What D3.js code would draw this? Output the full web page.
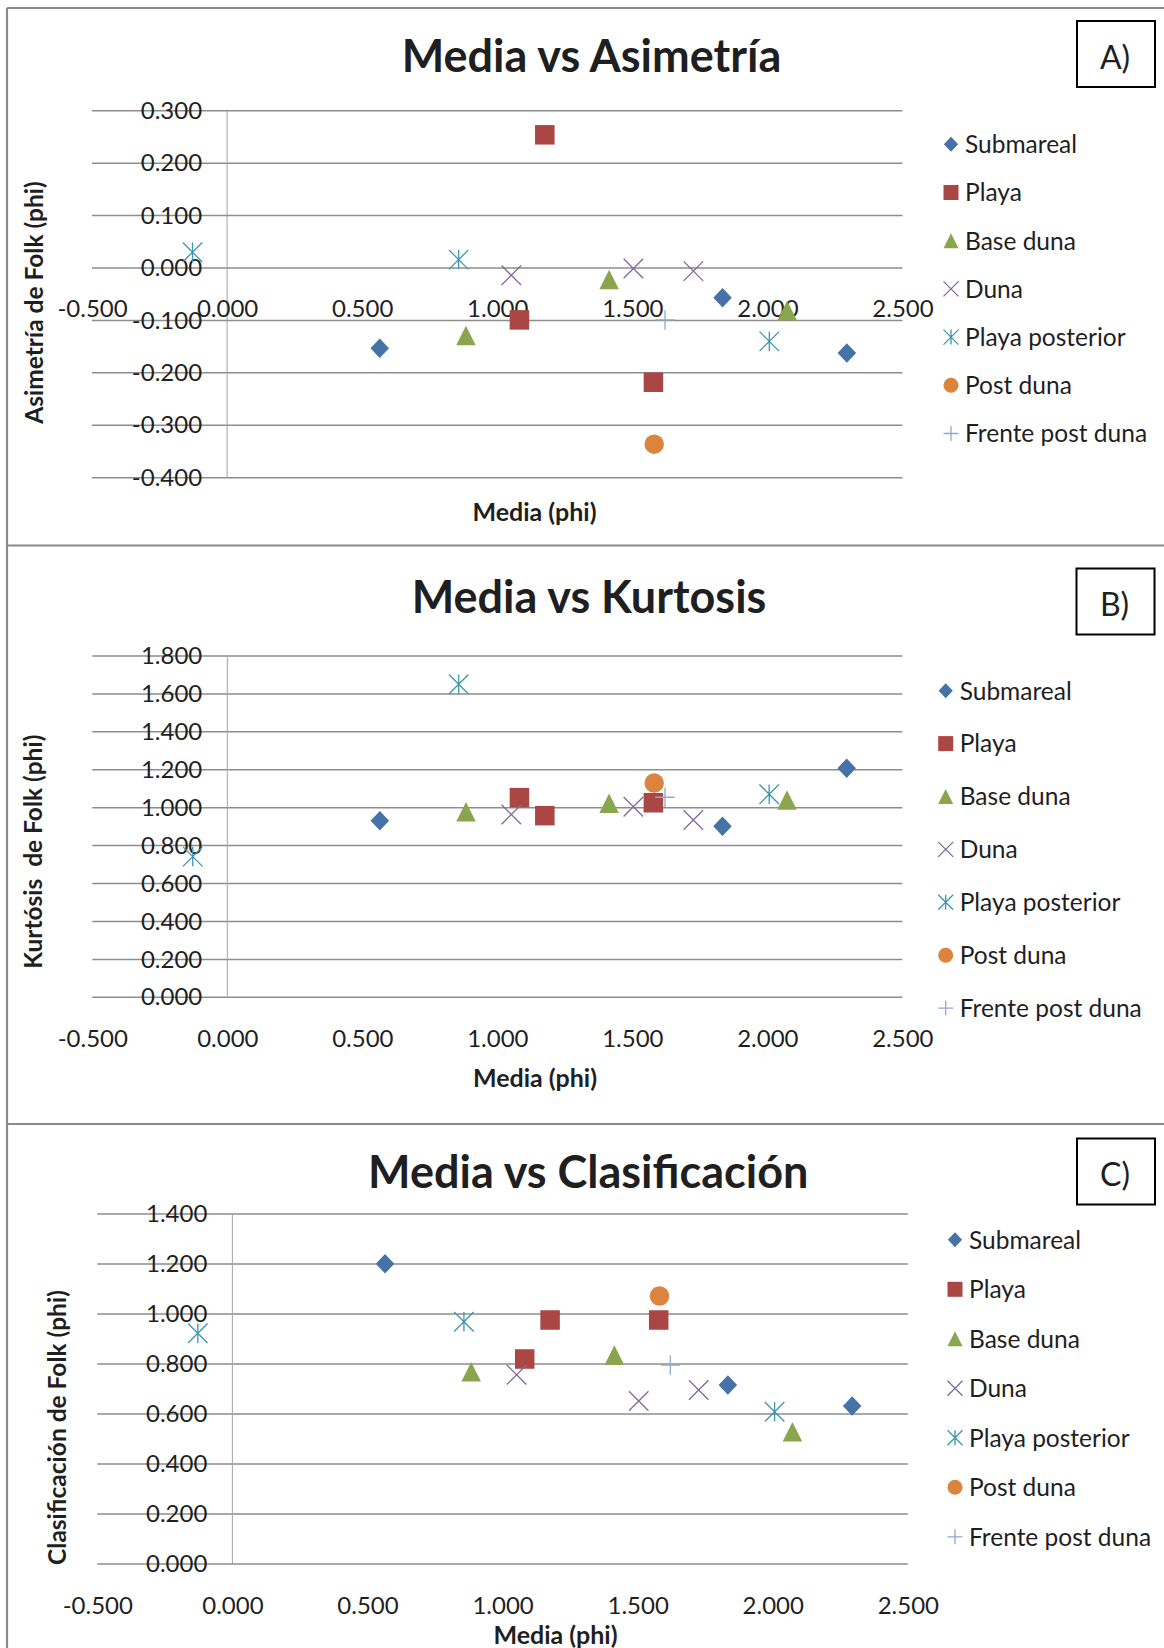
<!DOCTYPE html>
<html>
<head>
<meta charset="utf-8">
<script src="https://cdn.jsdelivr.net/npm/d3@7"></script>
<style>
  body { margin: 0; background: #fff; }
  svg { display: block; }
  text { font-family: Lato, "Open Sans", sans-serif; fill: #1f1f1f; }
</style>
</head>
<body>
<svg id="chart" width="1164" height="1648"></svg>
<script>
// ---- data -------------------------------------------------------------
const seriesNames = ["Submareal", "Playa", "Base duna", "Duna", "Playa posterior", "Post duna", "Frente post duna"];
const seriesColors = ["#4572A7", "#AA4643", "#89A54E", "#80699B", "#3D96AE", "#DB843D", "#92A8CD"];
const seriesSymbols = ["diamond", "square", "triangle", "x", "star", "circle", "plus"];

// mean grain size (phi) of every sample, grouped by environment
const media = [
  [0.565, 1.834, 2.294],
  [1.082, 1.176, 1.578],
  [0.884, 1.414, 2.073],
  [1.052, 1.504, 1.726],
  [-0.128, 0.857, 2.007],
  [1.581],
  [1.621]
];
// Folk skewness
const asimetria = [
  [-0.153, -0.057, -0.162],
  [-0.099, 0.254, -0.218],
  [-0.129, -0.022, -0.081],
  [-0.014, -0.001, -0.006],
  [0.030, 0.016, -0.140],
  [-0.336],
  [-0.099]
];
// Folk kurtosis
const kurtosis = [
  [0.931, 0.902, 1.208],
  [1.053, 0.958, 1.026],
  [0.979, 1.023, 1.041],
  [0.964, 1.005, 0.935],
  [0.742, 1.651, 1.071],
  [1.130],
  [1.055]
];
// Folk sorting
const clasificacion = [
  [1.201, 0.716, 0.632],
  [0.820, 0.976, 0.976],
  [0.769, 0.836, 0.529],
  [0.757, 0.652, 0.696],
  [0.923, 0.969, 0.609],
  [1.072],
  [0.796]
];

const xTicks = [-0.5, 0, 0.5, 1, 1.5, 2, 2.5];
const asimetriaTicks = [-0.4, -0.3, -0.2, -0.1, 0, 0.1, 0.2, 0.3];
const kurtosisTicks = [0, 0.2, 0.4, 0.6, 0.8, 1.0, 1.2, 1.4, 1.6, 1.8];
const clasificacionTicks = [0, 0.2, 0.4, 0.6, 0.8, 1.0, 1.2, 1.4];

// ---- layout of the three stacked panels -------------------------------
const panels = [
  {
    title: "Media vs Asimetría", tag: "A)", yLabel: "Asimetría de Folk (phi)",
    values: asimetria, yTicks: asimetriaTicks,
    plot: { left: 92, right: 902.5, top: 110.7, bottom: 477.7 },
    titleX: 591.5, titleY: 71.7,
    tagBox: { x: 1077, y: 21, w: 78, h: 66 },
    legend: { x: 951, y: 144.3, step: 48.2 },
    xTitle: { x: 534.5, y: 520.5 },
    yTitle: { x: 34.5, y: 302.5 }
  },
  {
    title: "Media vs Kurtosis", tag: "B)", yLabel: "Kurtósis  de Folk (phi)",
    values: kurtosis, yTicks: kurtosisTicks,
    plot: { left: 92.3, right: 902.3, top: 656, bottom: 997.3 },
    titleX: 589, titleY: 613,
    tagBox: { x: 1076.5, y: 568.5, w: 78, h: 66 },
    legend: { x: 945.7, y: 690.7, step: 52.9 },
    xTitle: { x: 535, y: 1087 },
    yTitle: { x: 33.5, y: 851.7 }
  },
  {
    title: "Media vs Clasificación", tag: "C)", yLabel: "Clasificación de Folk (phi)",
    values: clasificacion, yTicks: clasificacionTicks,
    plot: { left: 97.3, right: 907.8, top: 1214, bottom: 1564 },
    titleX: 588.3, titleY: 1187.7,
    tagBox: { x: 1077, y: 1138.5, w: 78, h: 66 },
    legend: { x: 955, y: 1239.8, step: 49.5 },
    xTitle: { x: 555.5, y: 1643.5 },
    yTitle: { x: 57.5, y: 1427.5 }
  }
];
const frameLines = [8, 545.5, 1124];

const fmt = d3.formatLocale({ decimal: ".", thousands: ",", grouping: [3], currency: ["", ""], minus: "-" }).format(".3f");

// ---- marker shapes (half-size s, centred on the point) -----------------
function markerPath(type, s) {
  switch (type) {
    case "diamond": return `M0,${-s}L${s * 0.95},0L0,${s}L${-s * 0.95},0Z`;
    case "square": return `M${-s},${-s}H${s}V${s}H${-s}Z`;
    case "triangle": return `M0,${-s}L${s},${s}L${-s},${s}Z`;
    case "circle": return `M${-s},0A${s},${s} 0 1,0 ${s},0A${s},${s} 0 1,0 ${-s},0Z`;
    case "x": return `M${-s},${-s}L${s},${s}M${s},${-s}L${-s},${s}`;
    case "star": return `M${-s},${-s}L${s},${s}M${s},${-s}L${-s},${s}M0,${-s}V${s}`;
    case "plus": return `M${-s},0H${s}M0,${-s}V${s}`;
  }
}
const filled = t => ["diamond", "square", "triangle", "circle"].includes(t);
function styleMarker(sel, i) {
  const t = seriesSymbols[i];
  if (filled(t)) sel.attr("fill", seriesColors[i]).attr("stroke", "none");
  else sel.attr("fill", "none").attr("stroke", seriesColors[i]).attr("stroke-width", 1.3);
}

const svg = d3.select("#chart");

// panel frames
const frame = svg.append("g").attr("stroke", "#8a8a8a").attr("stroke-width", 2.2);
frame.append("line").attr("x1", 7).attr("x2", 7).attr("y1", frameLines[0]).attr("y2", 1648);
frameLines.forEach(y => frame.append("line").attr("x1", 7).attr("x2", 1164).attr("y1", y).attr("y2", y));

panels.forEach(p => {
  const g = svg.append("g");
  const x = d3.scaleLinear().domain([xTicks[0], xTicks[xTicks.length - 1]]).range([p.plot.left, p.plot.right]);
  const y = d3.scaleLinear().domain([p.yTicks[0], p.yTicks[p.yTicks.length - 1]]).range([p.plot.bottom, p.plot.top]);

  // horizontal gridlines
  g.append("g").selectAll("line").data(p.yTicks).join("line")
    .attr("x1", x.range()[0]).attr("x2", x.range()[1])
    .attr("y1", d => y(d)).attr("y2", d => y(d))
    .attr("stroke", "#8d8d8d").attr("stroke-width", 1.5);

  // vertical value axis crossing at media = 0
  g.append("line")
    .attr("x1", x(0)).attr("x2", x(0)).attr("y1", y.range()[1]).attr("y2", y.range()[0])
    .attr("stroke", "#a3a3a3").attr("stroke-width", 1);

  // y tick labels
  const yAxis = g.append("g").attr("transform", `translate(${x(0)},0)`)
    .call(d3.axisLeft(y).tickValues(p.yTicks).tickSize(0).tickPadding(25).tickFormat(fmt));
  yAxis.select(".domain").remove();
  yAxis.selectAll("text").style("font-family", "Lato").style("font-size", "24px").attr("fill", "#1f1f1f");

  // x tick labels, hung below the horizontal axis at value 0
  const xAxis = g.append("g").attr("transform", `translate(0,${y(0)})`)
    .call(d3.axisBottom(x).tickValues(xTicks).tickSize(0).tickFormat(fmt));
  xAxis.select(".domain").remove();
  xAxis.selectAll("text").attr("dy", null).attr("y", 49.5)
    .style("font-family", "Lato").style("font-size", "24px").attr("fill", "#1f1f1f");

  // points
  seriesNames.forEach((name, i) => {
    const pts = media[i].map((m, k) => ({ m, v: p.values[i][k] }));
    g.append("g").selectAll("path").data(pts).join("path")
      .attr("transform", d => `translate(${x(d.m)},${y(d.v)})`)
      .attr("d", markerPath(seriesSymbols[i], 9.75))
      .call(styleMarker, i);
  });

  // title
  g.append("text").attr("x", p.titleX).attr("y", p.titleY).attr("text-anchor", "middle")
    .style("font-size", "45px").style("font-weight", 700).text(p.title);

  // panel tag box
  g.append("rect").attr("x", p.tagBox.x).attr("y", p.tagBox.y).attr("width", p.tagBox.w).attr("height", p.tagBox.h)
    .attr("fill", "none").attr("stroke", "#000").attr("stroke-width", 2);
  g.append("text").attr("x", p.tagBox.x + p.tagBox.w / 2 - 1).attr("y", p.tagBox.y + p.tagBox.h / 2 + 14.5)
    .attr("text-anchor", "middle").style("font-size", "32px").text(p.tag);

  // axis titles
  g.append("text").attr("x", p.xTitle.x).attr("y", p.xTitle.y).attr("text-anchor", "middle")
    .style("font-size", "25px").style("font-weight", 700).text("Media (phi)");
  g.append("text").attr("transform", `translate(${p.yTitle.x + 8},${p.yTitle.y}) rotate(-90)`)
    .attr("text-anchor", "middle").style("font-size", "24.5px").style("font-weight", 700)
    .style("white-space", "pre").text(p.yLabel);

  // legend
  const lg = g.append("g").selectAll("g").data(seriesNames).join("g")
    .attr("transform", (d, i) => `translate(${p.legend.x},${p.legend.y + i * p.legend.step})`);
  lg.append("path").attr("d", (d, i) => markerPath(seriesSymbols[i], 7.5))
    .each(function (d, i) { styleMarker(d3.select(this), i); });
  lg.append("text").attr("x", 14).attr("dy", "0.36em").style("font-size", "24.5px").text(d => d);
});
</script>
</body>
</html>
